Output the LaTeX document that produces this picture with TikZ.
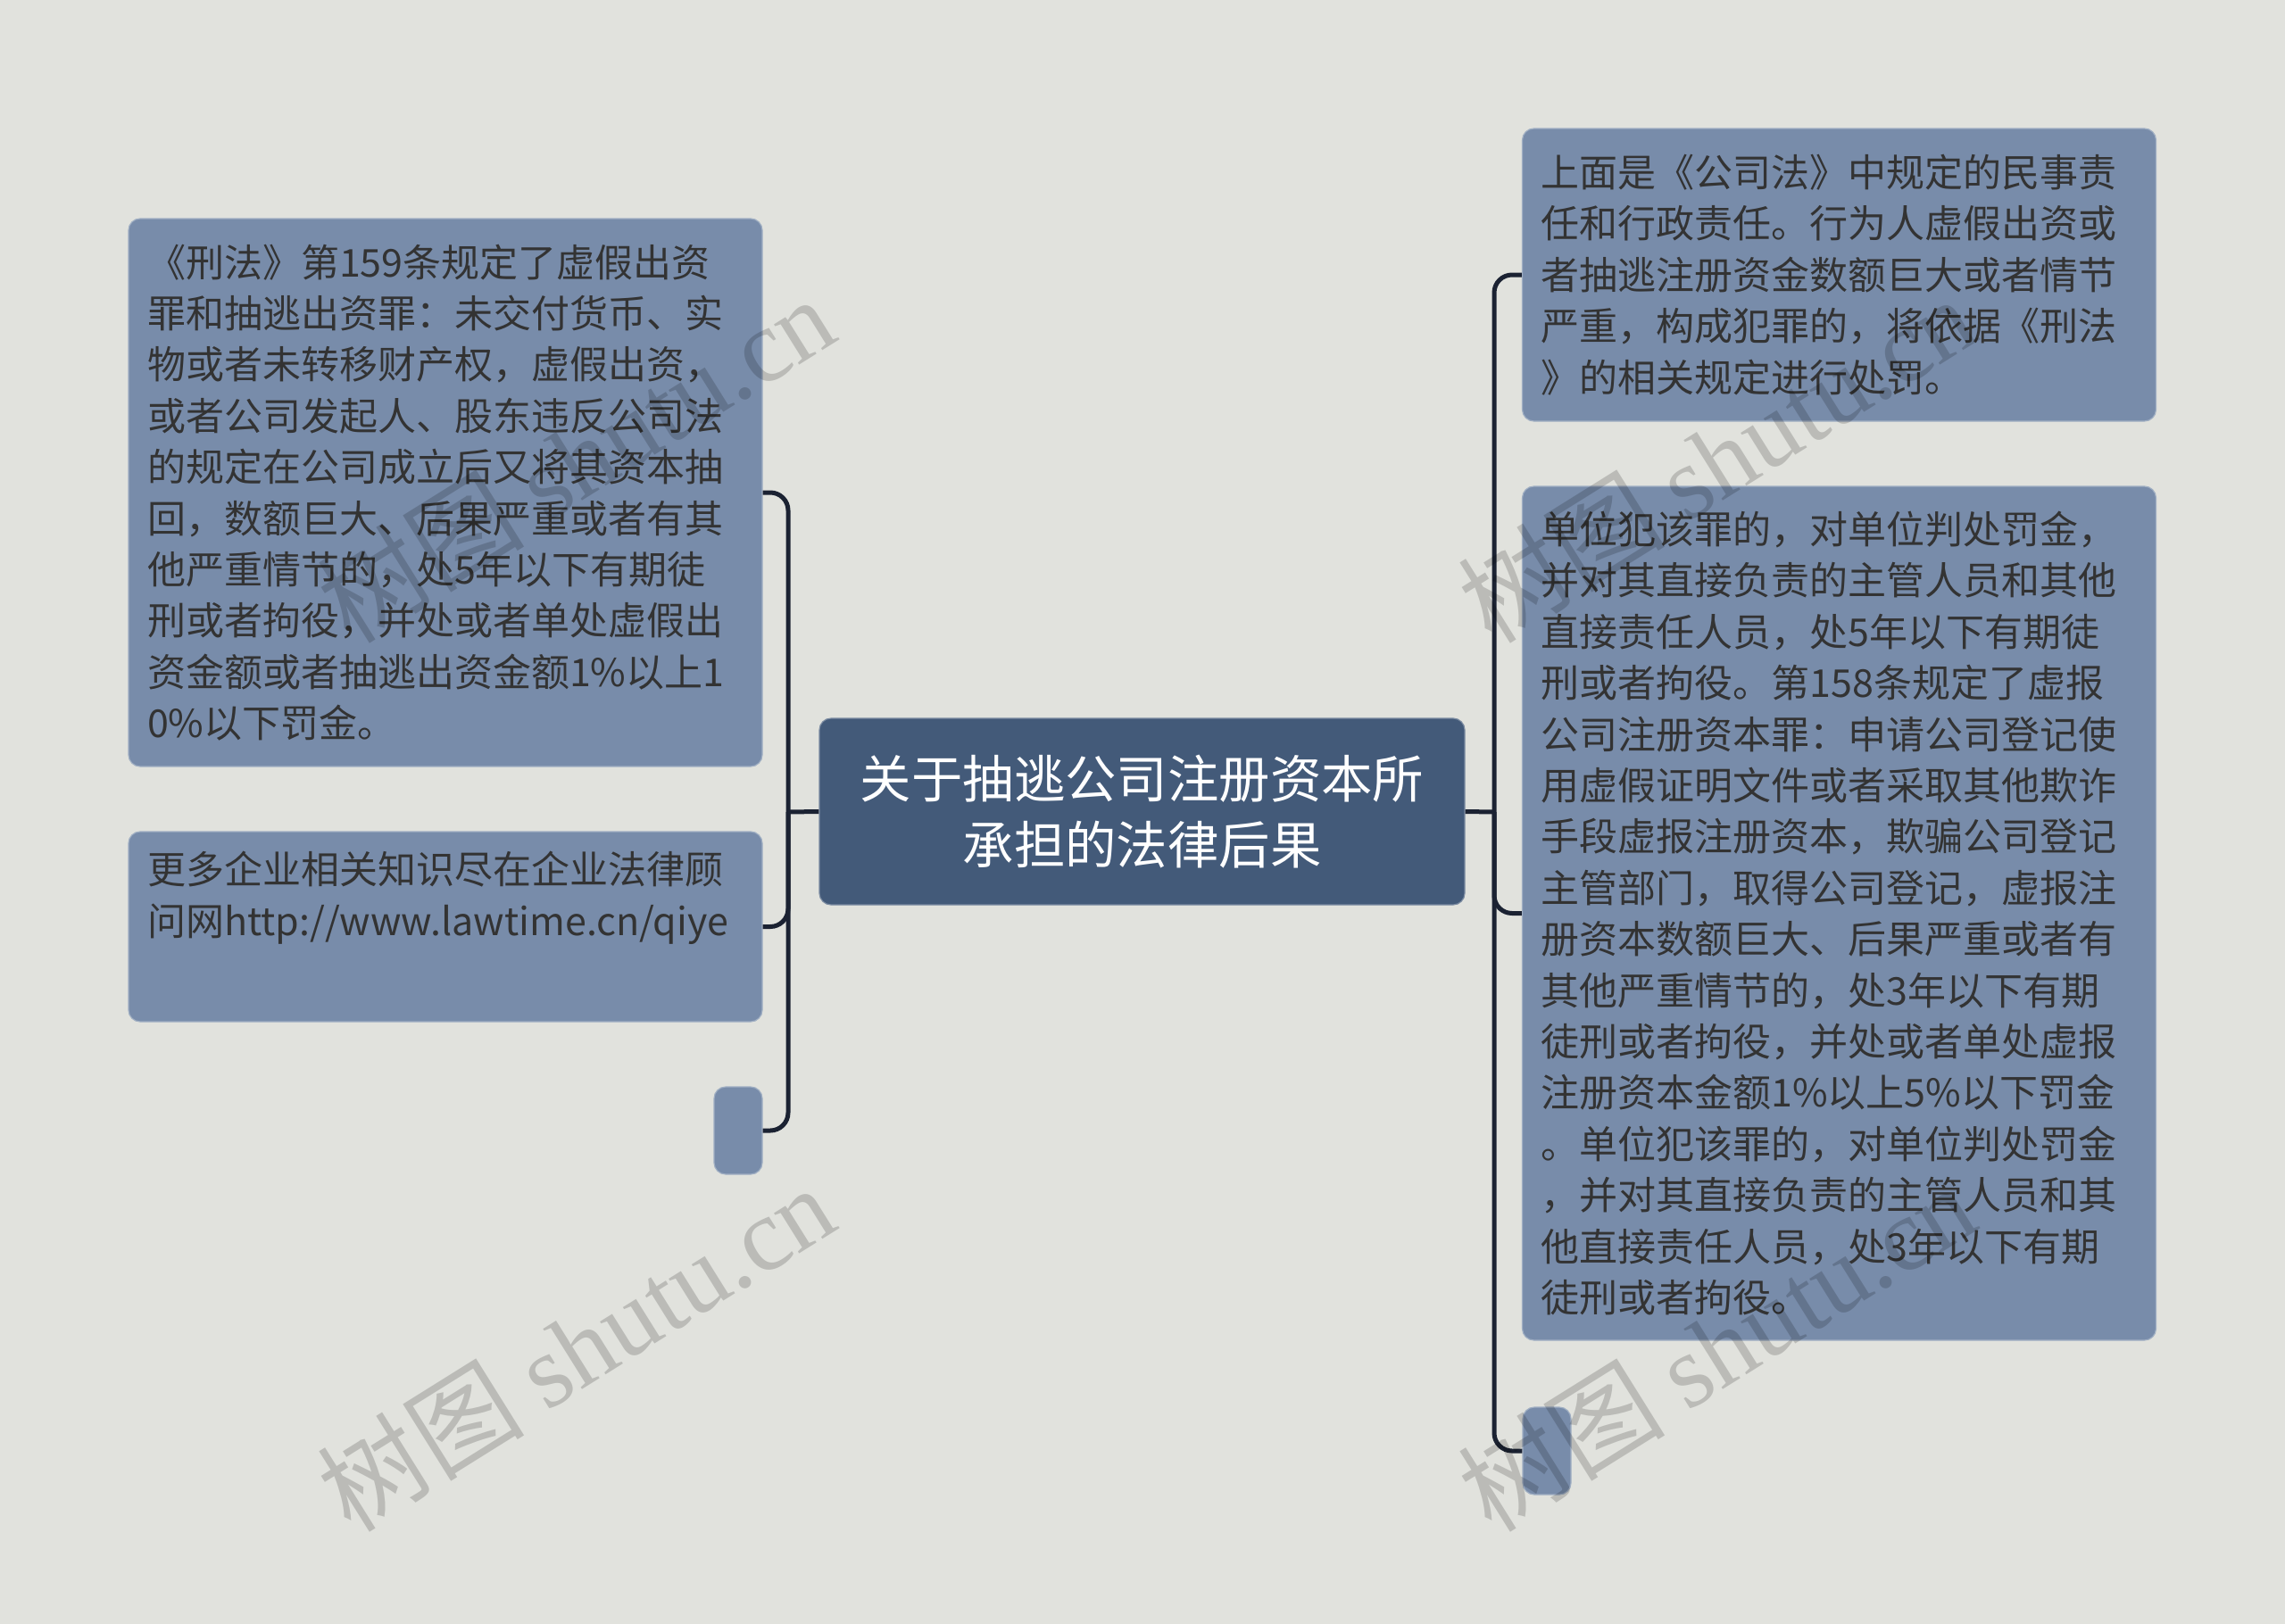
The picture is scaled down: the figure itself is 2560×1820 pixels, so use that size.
\documentclass[tikz,border=0pt]{standalone}
\usepackage{fontspec}
\setmainfont{Noto Sans CJK SC}
\newfontfamily\wmfont{Liberation Serif}
\definecolor{bgcol}{HTML}{E1E2DD}
\definecolor{leafcol}{HTML}{788CAA}
\definecolor{rootcol}{HTML}{435A79}
\definecolor{linecol}{HTML}{1B2232}
\definecolor{txtcol}{HTML}{333333}

\begin{document}
\begin{tikzpicture}[x=0.5pt,y=-0.5pt]
	\def \lefttrunk{883}
	\def \righttrunk{1674}
	\def \rooty{910}
	\tikzstyle{leaf-node}=[fill=leafcol,draw=leafcol!70!white,line width=0.6pt,rounded corners=6.5pt,inner sep=0pt,minimum width=355pt,text=txtcol,text width=334pt,align=left,font=\fontsize{21.5pt}{28.7pt}\selectfont]
	\tikzstyle{stub-node}=[fill=leafcol,draw=leafcol!70!white,line width=0.6pt,rounded corners=6.5pt,inner sep=0pt,minimum width=27pt,minimum height=49pt]
	\tikzstyle{root-node}=[fill=rootcol,draw=rootcol!70!white,line width=0.6pt,rounded corners=6.5pt,inner sep=0pt,minimum width=361.5pt,minimum height=104.5pt,text=white,align=center,font=\fontsize{28.7pt}{36.7pt}\selectfont]
	\tikzstyle{link}=[draw=linecol,line width=2.5pt,rounded corners=10pt]
	\tikzstyle{wmark}=[text=black,text opacity=0.17,rotate=32,font=\fontsize{58pt}{58pt}\selectfont]

	% canvas
	\fill[bgcol] (0,0) rectangle (2560,1820);
	\useasboundingbox (0,0) rectangle (2560,1820);

	% root
	\node[root-node] (root) at (1279.5,909.5) {关于抽逃公司注册资本所\\承担的法律后果};

	% left side
	\node[leaf-node,minimum height=307pt] (l1) at (499,552) {%
	《刑法》第159条规定了虚假出资\\
	罪和抽逃出资罪：未交付货币、实\\
	物或者未转移财产权，虚假出资，\\
	或者公司发起人、股东违反公司法\\
	的规定在公司成立后又将其资本抽\\
	回，数额巨大、后果严重或者有其\\
	他严重情节的，处5年以下有期徒\\
	刑或者拘役，并处或者单处虚假出\\
	资金额或者抽逃出资金额1\%以上1\\
	0\%以下罚金。};
	\node[leaf-node,minimum height=106.5pt] (l2) at (499,1038.5) {%
	更多企业相关知识尽在企业法律顾\\
	问网http://www.lawtime.cn/qiye\\
	\strut};
	\node[stub-node] (l3) at (827,1267) {};

	% right side
	\node[leaf-node,minimum height=164pt] (r1) at (2060.5,308) {%
	上面是《公司法》中规定的民事责\\
	任和行政责任。行为人虚假出资或\\
	者抽逃注册资金数额巨大或者情节\\
	严重，构成犯罪的，将依据《刑法\\
	》的相关规定进行处罚。};
	\node[leaf-node,minimum height=478.5pt] (r2) at (2060.5,1023.5) {%
	单位犯该罪的，对单位判处罚金，\\
	并对其直接负责的主管人员和其他\\
	直接责任人员，处5年以下有期徒\\
	刑或者拘役。第158条规定了虚报\\
	公司注册资本罪：申请公司登记使\\
	用虚假证明文件或者采取其他欺诈\\
	手段虚报注册资本，欺骗公司登记\\
	主管部门，取得公司登记，虚报注\\
	册资本数额巨大、后果严重或者有\\
	其他严重情节的，处3年以下有期\\
	徒刑或者拘役，并处或者单处虚报\\
	注册资本金额1\%以上5\%以下罚金\\
	。单位犯该罪的，对单位判处罚金\\
	，并对其直接负责的主管人员和其\\
	他直接责任人员，处3年以下有期\\
	徒刑或者拘役。};
	\node[stub-node] (r3) at (1733,1626) {};

	% trunks
	\coordinate (lt) at (\lefttrunk,\rooty);
	\coordinate (rt) at (\righttrunk,\rooty);
	\draw[link] (root.west) -- (lt);
	\draw[link] (root.east) -- (rt);
	\draw[link] (lt) |- (l1.east);
	\draw[link] (lt) |- (l2.east);
	\draw[link] (lt) |- (l3.east);
	\draw[link] (rt) |- (r1.west);
	\draw[link] (rt) |- (r2.west);
	\draw[link] (rt) |- (r3.west);

	% watermarks
	\node[wmark] (wm1) at (645,514) {树图 {\wmfont shutu.cn}};
	\node[wmark] (wm2) at (645,1510) {树图 {\wmfont shutu.cn}};
	\node[wmark] (wm3) at (1923,514) {树图 {\wmfont shutu.cn}};
	\node[wmark] (wm4) at (1923,1510) {树图 {\wmfont shutu.cn}};
\end{tikzpicture}
\end{document}
